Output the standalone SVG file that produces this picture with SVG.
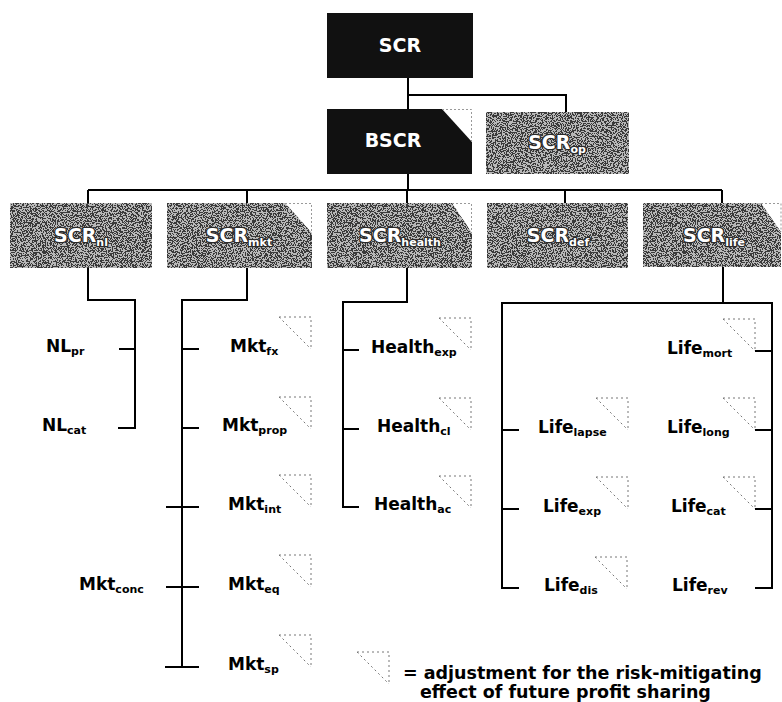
<svg xmlns="http://www.w3.org/2000/svg" xmlns:xlink="http://www.w3.org/1999/xlink" width="782" height="702" viewBox="0 0 782 702">
<style>
.blk{fill:#111}
.gry{fill:#3a3a3a;filter:url(#grain)}
.bt{font-family:"DejaVu Sans","Liberation Sans",sans-serif;font-weight:bold;font-size:19px;fill:#fff;text-anchor:middle}
.gt{stroke:#2a2a2a;stroke-width:2.5;paint-order:stroke;stroke-linejoin:round}
.lb{font-family:"DejaVu Sans","Liberation Sans",sans-serif;font-weight:bold;font-size:17px;fill:#000}
.sub{font-size:11px}
.con{fill:none;stroke:#000;stroke-width:2}
.cd{fill:none;stroke:#999;stroke-width:1;stroke-dasharray:2 2}
.ps{fill:none;stroke:#777;stroke-width:1;stroke-dasharray:2 3}
.lg{font-family:"DejaVu Sans","Liberation Sans",sans-serif;font-weight:bold;font-size:17.5px;fill:#000}
</style>
<defs>
<filter id="grain" x="0" y="0" width="1" height="1" color-interpolation-filters="sRGB">
<feTurbulence type="fractalNoise" baseFrequency="0.8" numOctaves="2" seed="7" result="n"/>
<feColorMatrix in="n" type="matrix" values="0 0 0 0 0.72 0 0 0 0 0.72 0 0 0 0 0.72 1 0 0 0 0" result="a"/>
<feComponentTransfer in="a" result="s"><feFuncA type="discrete" tableValues="0 0 1 1"/></feComponentTransfer>
<feComposite in="s" in2="SourceGraphic" operator="atop"/>
</filter>
<g id="ps"><path class="ps" d="M0 0H32V32M0 0L32 32"/></g>
</defs>
<rect width="782" height="702" fill="#fff"/>

<g id="connectors">
<path class="con" d="M408 78V109M408 95H566V112M408 174V190M88 190H722M88 190V203M247 190V203M407 190V203M565 190V203M722 190V203"/>
<path class="con" d="M88 268V300H135V428H118M119 349H135"/>
<path class="con" d="M247 268V300H182V667M182 349H199M182 428H199M166 507H199M166 587H199M165 667H199"/>
<path class="con" d="M407 268V302H343V507H359M343 350H359M343 429H359"/>
<path class="con" d="M723 267V303M519 588H502V303H772V588H755M502 430H519M502 509H519M755 351H772M755 430H772M755 509H772"/>
</g>

<g id="SCR"><rect class="blk" x="327" y="13" width="146" height="65"/><text class="bt" x="400" y="52">SCR</text></g>
<g id="BSCR"><path class="blk" d="M327 109H442L472 142V174H327Z"/><path class="cd" d="M442 109.5H471.5V142"/><text class="bt" x="393" y="147">BSCR</text></g>
<g id="SCR_op"><rect class="gry" x="486" y="112" width="143" height="62"/><text class="bt gt" x="557" y="149">SCR<tspan class="sub" dy="4">op</tspan></text></g>

<g id="SCR_nl"><rect class="gry" x="10" y="203" width="142" height="65"/><text class="bt gt" x="81" y="242">SCR<tspan class="sub" dy="4">nl</tspan></text></g>
<g id="SCR_mkt"><path class="gry" d="M167 203H285L312 233V268H167Z"/><path class="cd" d="M285 203.5H311.5V233"/><text class="bt gt" x="239" y="242">SCR<tspan class="sub" dy="4">mkt</tspan></text></g>
<g id="SCR_health"><path class="gry" d="M327 203H452L472 233V268H327Z"/><path class="cd" d="M452 203.5H471.5V233"/><text class="bt gt" x="400" y="242">SCR<tspan class="sub" dy="4">health</tspan></text></g>
<g id="SCR_def"><rect class="gry" x="487" y="203" width="141" height="65"/><text class="bt gt" x="558" y="242">SCR<tspan class="sub" dy="4">def</tspan></text></g>
<g id="SCR_life"><path class="gry" d="M643 203H761L781 232V267H643Z"/><path class="cd" d="M761 203.5H781V232"/><text class="bt gt" x="714" y="242">SCR<tspan class="sub" dy="4">life</tspan></text></g>

<g id="NL_pr"><text class="lb" x="46" y="352">NL<tspan class="sub" dy="3">pr</tspan></text></g>
<g id="NL_cat"><text class="lb" x="42" y="431">NL<tspan class="sub" dy="3">cat</tspan></text></g>

<g id="Mkt_fx"><text class="lb" x="230" y="352">Mkt<tspan class="sub" dy="3">fx</tspan></text><use xlink:href="#ps" x="279" y="317"/></g>
<g id="Mkt_prop"><text class="lb" x="222" y="431">Mkt<tspan class="sub" dy="3">prop</tspan></text><use xlink:href="#ps" x="279" y="397"/></g>
<g id="Mkt_int"><text class="lb" x="228" y="510">Mkt<tspan class="sub" dy="3">int</tspan></text><use xlink:href="#ps" x="279" y="475"/></g>
<g id="Mkt_conc"><text class="lb" x="79" y="590">Mkt<tspan class="sub" dy="3">conc</tspan></text></g>
<g id="Mkt_eq"><text class="lb" x="228" y="590">Mkt<tspan class="sub" dy="3">eq</tspan></text><use xlink:href="#ps" x="279" y="555"/></g>
<g id="Mkt_sp"><text class="lb" x="228" y="670">Mkt<tspan class="sub" dy="3">sp</tspan></text><use xlink:href="#ps" x="279" y="635"/></g>

<g id="Health_exp"><text class="lb" x="371" y="353">Health<tspan class="sub" dy="3">exp</tspan></text><use xlink:href="#ps" x="439" y="318"/></g>
<g id="Health_cl"><text class="lb" x="377" y="432">Health<tspan class="sub" dy="3">cl</tspan></text><use xlink:href="#ps" x="439" y="398"/></g>
<g id="Health_ac"><text class="lb" x="374" y="510">Health<tspan class="sub" dy="3">ac</tspan></text><use xlink:href="#ps" x="439" y="476"/></g>

<g id="Life_mort"><text class="lb" x="667" y="354">Life<tspan class="sub" dy="3">mort</tspan></text><use xlink:href="#ps" x="723" y="319"/></g>
<g id="Life_lapse"><text class="lb" x="538" y="433">Life<tspan class="sub" dy="3">lapse</tspan></text><use xlink:href="#ps" x="596" y="398"/></g>
<g id="Life_long"><text class="lb" x="667" y="433">Life<tspan class="sub" dy="3">long</tspan></text><use xlink:href="#ps" x="723" y="398"/></g>
<g id="Life_exp"><text class="lb" x="543" y="512">Life<tspan class="sub" dy="3">exp</tspan></text><use xlink:href="#ps" x="596" y="477"/></g>
<g id="Life_cat"><text class="lb" x="671" y="512">Life<tspan class="sub" dy="3">cat</tspan></text><use xlink:href="#ps" x="723" y="477"/></g>
<g id="Life_dis"><text class="lb" x="544" y="591">Life<tspan class="sub" dy="3">dis</tspan></text><use xlink:href="#ps" x="595" y="557"/></g>
<g id="Life_rev"><text class="lb" x="672" y="591">Life<tspan class="sub" dy="3">rev</tspan></text></g>

<g id="legend">
<use xlink:href="#ps" x="357" y="652"/>
<text class="lg" x="403" y="679">= adjustment for the risk-mitigating</text>
<text class="lg" x="420" y="698">effect of future profit sharing</text>
</g>
</svg>
